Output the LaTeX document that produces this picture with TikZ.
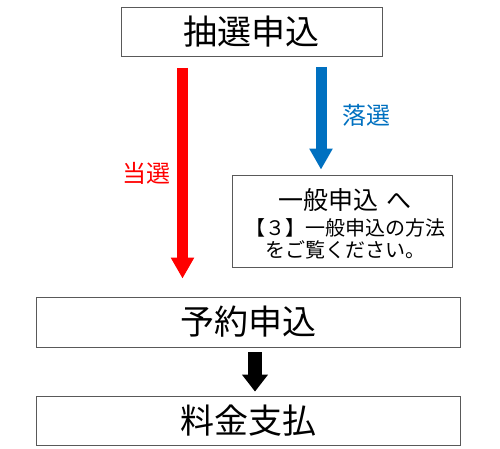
\documentclass[tikz,border=0pt]{standalone}
\usepackage{fontspec}
\setmainfont{Noto Sans CJK JP}
\usepackage{xcolor}
\usepackage{tikz}
\usetikzlibrary{
    arrows.meta,
    positioning
}
\definecolor{tousen}{HTML}{FF0000}
\definecolor{rakusen}{HTML}{0070C0}
\definecolor{waku}{HTML}{595959}
\tikzstyle{box} = [
    rectangle, draw=waku,
    line width=0.8pt,
    text centered,
    align=center,
    fill=white,
    inner sep=0pt
]
\tikzstyle{bigtext} = [
    font=\fontsize{34}{40}\selectfont
]
\tikzstyle{blockarrow} = [
    line width=11pt,
    -{Triangle[width=22pt,length=21pt]}
]

\begin{document}
\begin{tikzpicture}[x=1pt, y=-1pt]
    \useasboundingbox (0,0) rectangle (500,449);
    % boxes
    \node[box, bigtext, minimum width=261pt, minimum height=49pt] (chusen) at (251.5,31.5) {\raisebox{-1.5pt}{抽選申込}};
    \node[box, minimum width=220pt, minimum height=92pt] (ippan) at (342,221) {};
    \node[font=\fontsize{25}{30}\selectfont] (ippantitle) at (345,200) {一般申込\hspace{0.35em}へ};
    \node[font=\fontsize{20}{22}\selectfont, align=center] (ippanbody) at (345,239) {【３】一般申込の方法\\をご覧ください。};
    \node[box, bigtext, minimum width=424pt, minimum height=50pt] (yoyaku) at (248,322) {\raisebox{-1.5pt}{予約申込}};
    \node[box, bigtext, minimum width=424pt, minimum height=49pt] (ryokin) at (248,420.5) {料金支払};
    % arrows
    \coordinate (redstart) at (182.5,68);
    \coordinate (bluestart) at (321,67);
    \draw[blockarrow, tousen, shorten >=18pt] (redstart) -- (redstart |- yoyaku.north);
    \draw[blockarrow, rakusen, shorten >=5pt] (bluestart) -- (bluestart |- ippan.north);
    \draw[line width=14pt, -{Triangle[width=25pt,length=17pt]}, shorten <=5pt, shorten >=4pt]
        ([xshift=7pt]yoyaku.south) -- ([xshift=7pt]ryokin.north);
    % labels
    \node[text=tousen, font=\fontsize{24}{28}\selectfont] (tousenlabel) at (146,173) {当選};
    \node[text=rakusen, font=\fontsize{24}{28}\selectfont] (rakusenlabel) at (366,115) {落選};
\end{tikzpicture}
\end{document}
